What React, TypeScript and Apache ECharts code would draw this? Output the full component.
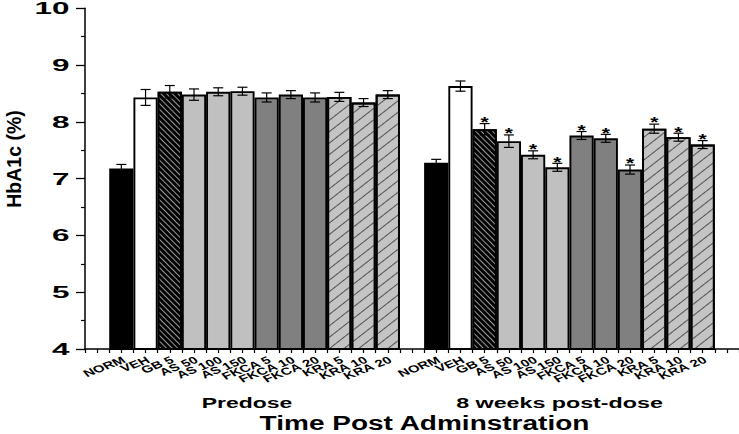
import React, { useEffect, useRef } from 'react';
import * as echarts from 'echarts';

const groups = ['NORM', 'VEH', 'GB 5', 'AS 50', 'AS 100', 'AS 150', 'FKCA 5', 'FKCA 10', 'FKCA 20', 'KRA 5', 'KRA 10', 'KRA 20'];
const preMean = [7.18, 8.43, 8.53, 8.48, 8.53, 8.54, 8.43, 8.48, 8.43, 8.44, 8.34, 8.48];
const preErr = [0.07, 0.14, 0.11, 0.1, 0.07, 0.07, 0.08, 0.07, 0.08, 0.08, 0.07, 0.07];
const postMean = [7.28, 8.63, 7.87, 7.66, 7.42, 7.2, 7.76, 7.71, 7.16, 7.88, 7.73, 7.6];
const postErr = [0.06, 0.09, 0.1, 0.11, 0.07, 0.07, 0.07, 0.07, 0.08, 0.08, 0.07, 0.07];
const postSig = [0, 0, 1, 1, 1, 1, 1, 1, 1, 1, 1, 1];
const panelLabels = ['Predose', '8 weeks post-dose'];
const yTicks = [4, 5, 6, 7, 8, 9, 10];
const xTitle = 'Time Post Adminstration';
const yTitle = 'HbA1c (%)';

const FONT = '"Liberation Sans", Arial, sans-serif';

// slot layout: gap, 12 predose, gap, 12 post-dose, gap
const slots: { key: string; label: string; panel: number; g: number }[] = [];
slots.push({ key: 'gap0', label: '', panel: -1, g: -1 });
groups.forEach((g, i) => slots.push({ key: 'pre-' + g, label: g, panel: 0, g: i }));
slots.push({ key: 'gap1', label: '', panel: -1, g: -1 });
groups.forEach((g, i) => slots.push({ key: 'post-' + g, label: g, panel: 1, g: i }));
slots.push({ key: 'gap2', label: '', panel: -1, g: -1 });

function styleFor(g: number): any {
  const border = { borderColor: '#000', borderWidth: 1.9 };
  if (g === 0) return { color: '#000', ...border };
  if (g === 1) return { color: '#fff', ...border };
  if (g === 2)
    return {
      color: '#000',
      ...border,
      decal: {
        symbol: 'rect',
        symbolSize: 1,
        dashArrayX: [1, 0],
        dashArrayY: [1, 3],
        rotation: Math.PI / 4,
        color: '#9a9a9a',
      },
    };
  if (g <= 5) return { color: '#c0c0c0', ...border };
  if (g <= 8) return { color: '#808080', ...border };
  return {
    color: '#c4c4c4',
    ...border,
    decal: {
      symbol: 'rect',
      symbolSize: 1,
      dashArrayX: [1, 0],
      dashArrayY: [1, 8],
      rotation: (-38 * Math.PI) / 180,
      color: '#505050',
    },
  };
}

export default function App() {
  const ref = useRef<HTMLDivElement>(null);
  useEffect(() => {
    const chart = echarts.init(ref.current!, null, { renderer: 'svg' });

    const barData = slots.map((s) => {
      if (s.panel < 0) return '-';
      const v = s.panel === 0 ? preMean[s.g] : postMean[s.g];
      return { value: v, itemStyle: styleFor(s.g) };
    });
    const errData: number[][] = [];
    slots.forEach((s, i) => {
      if (s.panel < 0) return;
      if (s.panel === 0) errData.push([i, preMean[s.g], preErr[s.g], 0]);
      else errData.push([i, postMean[s.g], postErr[s.g], postSig[s.g]]);
    });

    const option: any = {
      animation: false,
      grid: { left: 85, top: 8.3, right: -10.4, bottom: 85 },
      xAxis: [
        {
          type: 'category',
          data: slots.map((s) => s.key),
          boundaryGap: true,
          axisLine: { show: true, lineStyle: { color: '#000', width: 1.5 } },
          axisTick: { show: false },
          axisLabel: { show: false },
          splitLine: { show: false },
        },
        {
          type: 'value',
          min: 0,
          max: slots.length,
          interval: 0.5,
          position: 'bottom',
          axisLine: { show: false },
          axisTick: { show: true, length: 4, lineStyle: { color: '#000', width: 1.2 } },
          axisLabel: { show: false },
          splitLine: { show: false },
        },
      ],
      yAxis: {
        type: 'value',
        min: 4,
        max: 10,
        interval: 1,
        axisLine: { show: true, lineStyle: { color: '#000', width: 1.5 } },
        axisTick: { show: true, length: 9, lineStyle: { color: '#000', width: 1.3 } },
        minorTick: { show: true, splitNumber: 2, length: 4, lineStyle: { color: '#000', width: 1.2 } },
        axisLabel: { show: false },
        splitLine: { show: false },
      },
      series: [
        {
          type: 'bar',
          xAxisIndex: 0,
          barCategoryGap: '0%',
          data: barData,
          clip: true,
        },
        {
          type: 'custom',
          xAxisIndex: 0,
          data: errData,
          encode: { x: 0, y: 1 },
          z: 5,
          renderItem: (params: any, api: any) => {
            const x = api.value(0);
            const m = api.value(1);
            const e = api.value(2);
            const sig = api.value(3);
            const t = api.coord([x, m + e]);
            const b = api.coord([x, m - e]);
            const hw = 5;
            const st = { stroke: '#000', lineWidth: 1.2 };
            const children: any[] = [
              { type: 'line', shape: { x1: t[0], y1: t[1], x2: b[0], y2: b[1] }, style: st },
              { type: 'line', shape: { x1: t[0] - hw, y1: t[1], x2: t[0] + hw, y2: t[1] }, style: st },
              { type: 'line', shape: { x1: b[0] - hw, y1: b[1], x2: b[0] + hw, y2: b[1] }, style: st },
            ];
            if (sig) {
              children.push({
                type: 'text',
                x: t[0],
                y: t[1] - 2,
                scaleX: 1.4,
                style: { text: '*', font: 'bold 15px ' + FONT, align: 'center', verticalAlign: 'middle', fill: '#000' },
              });
            }
            return { type: 'group', children };
          },
        },
      ],
    };
    chart.setOption(option);

    const axisX = chart.convertToPixel({ xAxisIndex: 1 }, 0) as number;
    const graphics: any[] = [];
    yTicks.forEach((v) => {
      const py = chart.convertToPixel({ yAxisIndex: 0 }, v) as number;
      graphics.push({
        type: 'text',
        x: axisX - 15.5,
        y: py,
        scaleX: 1.85,
        style: { text: String(v), align: 'right', verticalAlign: 'middle', font: 'bold 17px ' + FONT, fill: '#000' },
      });
    });
    slots.forEach((s, i) => {
      if (s.panel < 0) return;
      const cx = chart.convertToPixel({ xAxisIndex: 0 }, i) as number;
      graphics.push({
        type: 'group',
        x: cx + 2.6,
        y: 359,
        scaleX: 1.5,
        children: [
          {
            type: 'text',
            rotation: Math.PI / 6,
            style: { text: s.label, align: 'right', verticalAlign: 'middle', font: 'bold 10px ' + FONT, fill: '#000' },
          },
        ],
      });
    });
    graphics.push({
      type: 'text',
      x: 247,
      y: 402.8,
      scaleX: 1.48,
      style: { text: panelLabels[0], align: 'center', verticalAlign: 'middle', font: 'bold 15.5px ' + FONT, fill: '#000' },
    });
    graphics.push({
      type: 'text',
      x: 559.5,
      y: 402.8,
      scaleX: 1.5,
      style: { text: panelLabels[1], align: 'center', verticalAlign: 'middle', font: 'bold 15.5px ' + FONT, fill: '#000' },
    });
    graphics.push({
      type: 'text',
      x: 424.5,
      y: 423.3,
      scaleX: 1.4,
      style: { text: xTitle, align: 'center', verticalAlign: 'middle', font: 'bold 20px ' + FONT, fill: '#000' },
    });
    graphics.push({
      type: 'text',
      x: 13.5,
      y: 159,
      rotation: Math.PI / 2,
      style: { text: yTitle, align: 'center', verticalAlign: 'middle', font: 'bold 19.5px ' + FONT, fill: '#000' },
    });
    chart.setOption({ graphic: graphics });

    return () => chart.dispose();
  }, []);
  return (
    <div
      ref={ref}
      style={{ position: 'fixed', left: 0, top: 0, width: 739, height: 434, background: '#fff' }}
    />
  );
}
